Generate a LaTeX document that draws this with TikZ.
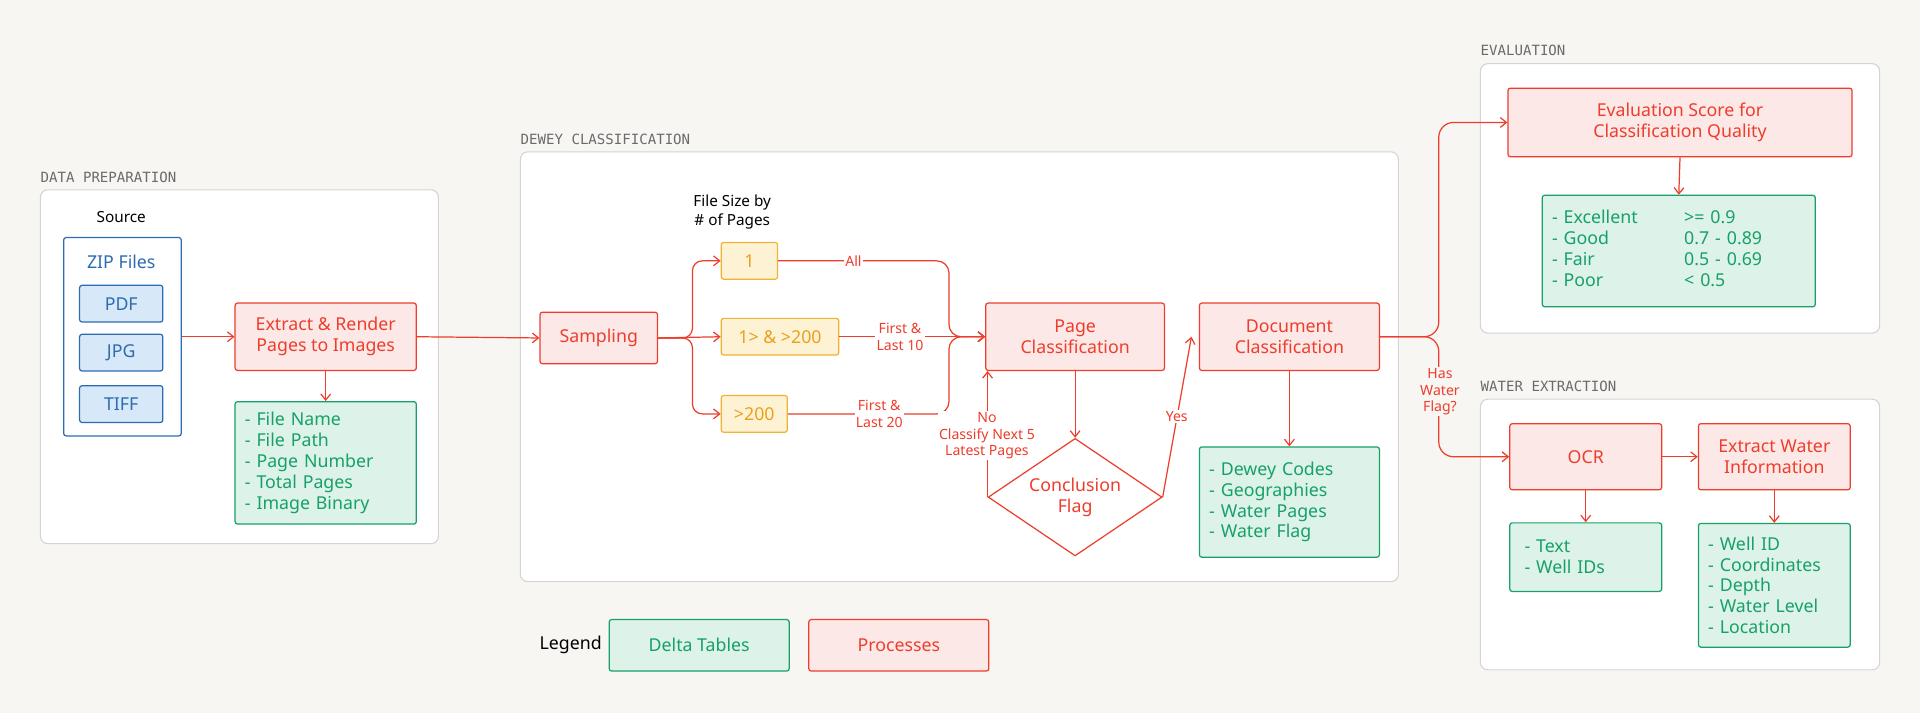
\documentclass[tikz,border=0pt]{standalone}
\usepackage{fontspec}
\setmainfont{Noto Sans}
\newfontfamily\monof{DejaVu Sans Mono}
\usetikzlibrary{positioning,shapes.geometric,arrows.meta}
\definecolor{bgc}{HTML}{F7F6F3}
\definecolor{panc}{HTML}{D4D4D4}
\definecolor{redc}{HTML}{EE3D2C}
\definecolor{redf}{HTML}{FCE9E7}
\definecolor{grnc}{HTML}{17A067}
\definecolor{grnf}{HTML}{DDF3EA}
\definecolor{bluc}{HTML}{2D6CB0}
\definecolor{bluf}{HTML}{D7E8F8}
\definecolor{orac}{HTML}{F2B233}
\definecolor{oraf}{HTML}{FEF2D4}
\definecolor{orat}{HTML}{EBA01C}
\definecolor{labc}{HTML}{6B6B6B}
\tikzset{
  panel/.style={draw=panc,fill=white,rounded corners=6pt,line width=0.9pt},
  plabel/.style={anchor=south west,inner sep=0pt,text=labc,font=\monof\fontsize{11.5}{13}\selectfont},
  proc/.style={draw=redc,fill=redf,text=redc,rounded corners=2pt,line width=1pt,align=center,
    font=\fontsize{14.5}{17}\selectfont,inner sep=2pt},
  table/.style={draw=grnc,fill=grnf,text=grnc,rounded corners=2pt,line width=1pt,align=left,
    font=\fontsize{14.5}{17}\selectfont,inner xsep=8pt,inner ysep=2pt},
  file/.style={draw=bluc,fill=bluf,text=bluc,rounded corners=2pt,line width=1pt,
    minimum width=68pt,minimum height=30pt,font=\fontsize{14.5}{17}\selectfont},
  size/.style={draw=orac,fill=oraf,text=orat,rounded corners=2pt,line width=1pt,
    minimum height=30pt,font=\fontsize{14.5}{17}\selectfont},
  arr/.style={draw=redc,line width=1pt,-{Straight Barb[length=5pt,width=8pt]}},
  elabel/.style={fill=white,text=redc,inner sep=1pt,align=center,font=\fontsize{11.5}{13.5}\selectfont},
  note/.style={align=center,font=\fontsize{12.5}{15}\selectfont}
}
\begin{document}
\begin{tikzpicture}[x=1pt,y=-1pt]
\useasboundingbox[fill=bgc] (0,0) rectangle (1568,582);

% panels
\draw[panel] (33,155) rectangle (358,444);
\node[plabel] at (33,149) {DATA PREPARATION};
\draw[panel] (425,124) rectangle (1142,475);
\node[plabel] at (425,118) {DEWEY CLASSIFICATION};
\draw[panel] (1209,52) rectangle (1535,272);
\node[plabel] at (1209,46) {EVALUATION};
\draw[panel] (1209,326) rectangle (1535,547);
\node[plabel] at (1209,320) {WATER EXTRACTION};

% data preparation
\node[note] (src) at (99,177) {Source};
\node[draw=bluc,fill=white,line width=1pt,rounded corners=2pt,minimum width=96pt,minimum height=162pt] (zip) at (100,275) {};
\node[text=bluc,font=\fontsize{14.5}{17}\selectfont] (ziplab) at (99,214) {ZIP Files};
\node[file] (pdf) at (99,248) {PDF};
\node[file] (jpg) at (99,288) {JPG};
\node[file] (tif) at (99,330) {TIFF};
\node[proc,minimum width=148pt,minimum height=55pt] (ext) at (266,275) {Extract \& Render\\Pages to Images};
\node[table,text width=132pt,minimum height=100pt] (meta) at (266,378) {- File Name\\- File Path\\- Page Number\\- Total Pages\\- Image Binary};

% dewey classification
\node[proc,minimum width=96pt,minimum height=42pt] (samp) at (489,276) {Sampling};
\node[note] (fsz) at (598,173) {File Size by\\\# of Pages};
\node[size,minimum width=46pt] (s1) at (612,213) {1};
\node[size,minimum width=96pt] (s2) at (637,275) {1> \& >200};
\node[size,minimum width=54pt] (s3) at (616,338) {>200};
\node[proc,minimum width=146pt,minimum height=55pt] (pc) at (878,275) {Page\\Classification};
\node[proc,minimum width=147pt,minimum height=55pt] (dc) at (1053,275) {Document\\Classification};
\node[diamond,draw=redc,fill=white,text=redc,line width=1pt,aspect=1.48,minimum width=142pt,minimum height=96pt,
  inner sep=0pt,align=center,font=\fontsize{14.5}{17}\selectfont] (cf) at (878,406) {Conclusion\\Flag};
\node[table,text width=131pt,minimum height=90pt] (dew) at (1053,410) {- Dewey Codes\\- Geographies\\- Water Pages\\- Water Flag};

% evaluation
\node[proc,minimum width=281pt,minimum height=56pt] (eval) at (1372,100) {Evaluation Score for\\Classification Quality};
\node[table,text width=207pt,minimum height=91pt] (score) at (1371,205) {\begin{tabular}{@{}l@{\hspace{38pt}}l@{}}
- Excellent & >= 0.9\\- Good & 0.7 - 0.89\\- Fair & 0.5 - 0.69\\- Poor & < 0.5\end{tabular}};

% water extraction
\node[proc,minimum width=124pt,minimum height=54pt] (ocr) at (1295,373) {OCR};
\node[proc,minimum width=124pt,minimum height=54pt] (xw) at (1449,373) {Extract Water\\Information};
\node[table,text width=108pt,minimum height=56pt,inner xsep=8pt] (txt) at (1295,455) {\hspace*{4pt}- Text\\\hspace*{4pt}- Well IDs};
\node[table,text width=108pt,minimum height=101pt] (well) at (1449,478) {- Well ID\\- Coordinates\\- Depth\\- Water Level\\- Location};

% legend
\node[font=\fontsize{14.5}{17}\selectfont] (leg) at (466,527) {Legend};
\node[table,minimum width=147pt,minimum height=42pt,align=center] (legt) at (571,527) {Delta Tables};
\node[proc,minimum width=147pt,minimum height=42pt] (legp) at (734,527) {Processes};

% connectors
\draw[arr] (zip.east |- ext.west) -- (ext.west);
\draw[arr] (ext.south) -- (meta.north);
\draw[arr] (ext.east) -- (samp.west);
\draw[arr,rounded corners=8pt] (samp.east) -- ++(28,0) |- (s1.west);
\draw[arr] (samp.east) -- (s2.west);
\draw[arr,rounded corners=8pt] (samp.east) -- ++(28,0) |- (s3.west);
\draw[arr,rounded corners=10pt] (s1.east) -| (775,275) -- (pc.west);
\draw[arr] (s2.east) -- (pc.west);
\draw[arr,rounded corners=10pt] (s3.east) -| (775,275) -- (pc.west);
\node[elabel] (lall) at (697,213) {All};
\node[elabel] (l10) at (735,275) {First \&\\Last 10};
\node[elabel] (l20) at (718,338) {First \&\\Last 20};
\draw[arr] (pc.south) -- (cf.north);
\draw[arr] (cf.west) -- (cf.west |- pc.south);
\node[elabel] (lno) at (806,356) {No\\Classify Next 5\\Latest Pages};
\coordinate (dcin) at (973,275);
\draw[arr] (cf.east) -- (dcin);
\node[elabel] (lyes) at (961,340) {Yes};
\draw[arr] (dc.south) -- (dew.north);
\draw[arr,rounded corners=12pt] (dc.east) -- (1175,275) |- (eval.west);
\draw[arr,rounded corners=12pt] (dc.east) -- (1175,275) |- (ocr.west);
\node[elabel,fill=bgc] (lflag) at (1176,320) {Has\\Water\\Flag?};
\draw[arr] (eval.south) -- (score.north);
\draw[arr] (ocr.east) -- (xw.west);
\draw[arr] (ocr.south) -- (txt.north);
\draw[arr] (xw.south) -- (well.north);
\end{tikzpicture}
\end{document}
